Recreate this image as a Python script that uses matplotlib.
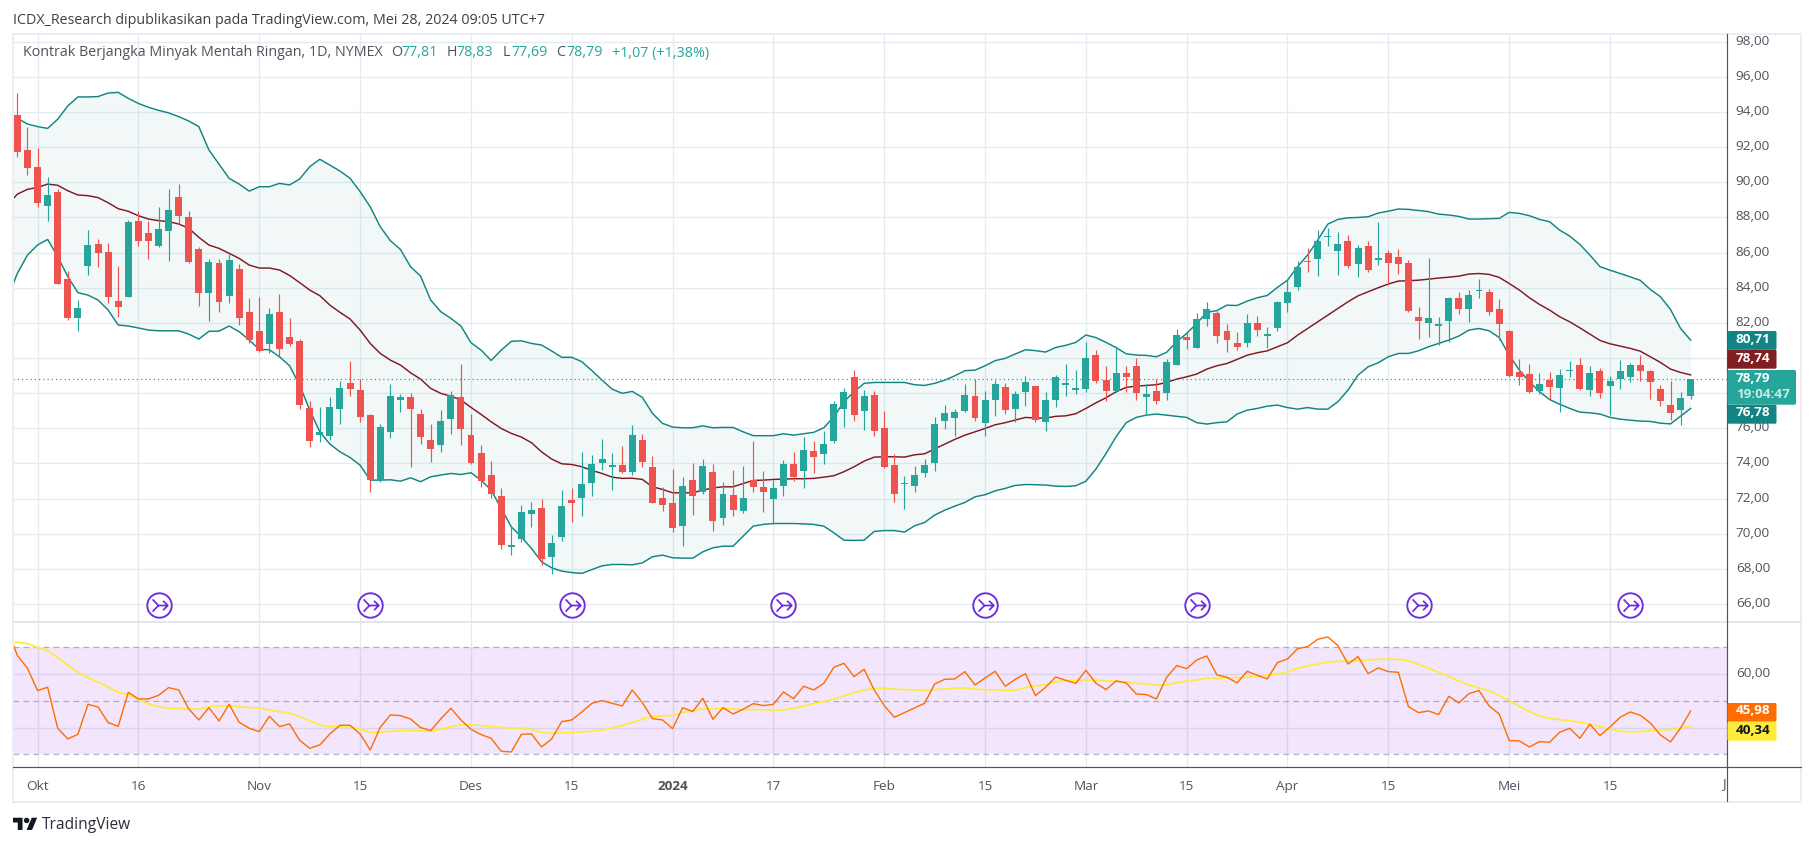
import matplotlib
matplotlib.use("Agg")
import matplotlib.pyplot as plt
from matplotlib.path import Path
from matplotlib.patches import PathPatch, FancyBboxPatch, Rectangle
from matplotlib.transforms import ScaledTranslation

W, H = 1815, 846
plt.rcParams['font.family'] = ['Open Sans', 'DejaVu Sans']

# ---------- data ----------
opens = [93.83,91.84,90.85,88.67,89.45,84.5,82.3,85.26,86.49,86.03,83.24,83.49,87.8,87.12,86.38,87.25,89.17,88.03,86.2,83.72,
85.41,83.55,85.07,82.62,81.54,80.81,82.62,81.19,80.97,77.15,75.63,75.58,77.11,78.58,78.18,76.75,73.05,75.8,77.61,77.78,
76.81,75.33,75.05,76.53,77.78,75.61,74.59,73.34,72.14,69.26,69.7,71.12,71.46,68.67,69.81,71.91,72.03,72.88,74.02,73.81,
73.91,73.51,75.33,73.79,72.03,71.74,70.43,73.05,72.37,73.51,70.89,72.2,71.29,73.05,72.65,71.97,72.71,73.96,73.57,74.7,
74.53,75.27,77.1,78.92,76.98,77.89,76.01,73.91,72.81,72.71,73.45,74.02,76.41,76.58,76.98,77.83,76.3,77.61,78.35,77.1,
78.06,78.4,76.35,77.61,78.46,78.18,78.23,80.17,78.75,78.12,79.14,79.54,77.8,78.12,78.0,79.6,81.19,80.57,82.22,82.56,
81.53,80.85,80.85,81.99,81.25,81.7,83.13,84.04,85.52,85.63,86.9,86.09,86.66,85.35,86.37,85.57,85.97,85.74,85.4,82.33,
81.99,81.84,82.1,83.41,82.78,83.81,83.75,82.78,81.53,79.2,79.08,78.12,78.74,78.29,79.26,79.6,78.17,79.26,78.4,78.8,
78.91,79.6,79.26,78.23,77.32,77.03,77.81]
highs = [95.07,93.13,91.95,90.3,89.64,84.95,83.3,87.29,86.8,86.55,85.24,87.86,88.35,87.8,88.6,89.6,89.9,88.37,86.34,85.62,
85.65,85.92,85.35,83.43,83.49,82.85,83.64,82.28,81.06,77.55,77.21,77.78,78.69,79.83,78.78,76.79,76.24,78.52,77.95,78.01,
77.1,76.24,77.04,78.12,79.66,76.81,75.05,74.13,72.6,70.38,71.63,71.8,71.97,69.92,72.48,72.6,74.65,74.48,75.39,74.6,
74.99,76.18,75.67,74.42,72.65,73.68,73.22,74.02,74.25,73.96,72.94,73.62,73.85,75.27,73.57,73.05,74.19,74.65,75.5,75.27,
75.84,77.55,78.29,79.32,78.18,78.12,76.98,74.53,73.28,73.85,74.25,76.64,77.32,77.1,78.52,78.8,78.12,78.75,78.56,78.12,
78.97,78.4,78.06,79.03,79.66,79.32,80.91,80.45,79.54,80.68,79.54,80.0,78.52,78.8,79.92,81.65,81.48,82.54,83.19,82.67,
81.93,81.47,82.5,82.39,81.76,83.24,84.44,85.52,86.26,87.28,87.4,87.17,87.0,86.43,86.66,87.74,86.14,86.2,85.57,82.9,
85.69,82.33,83.47,83.75,83.87,84.49,83.92,83.35,81.59,79.94,79.65,79.14,79.2,79.4,79.82,80.0,79.54,79.43,78.97,79.88,
79.71,80.17,79.31,78.46,78.69,78.06,78.83]
lows = [91.46,90.42,88.58,87.82,84.23,82.16,81.55,84.73,85.2,83.15,82.35,83.45,86.4,85.65,86.34,85.5,87.63,85.43,82.98,82.12,
82.64,83.15,81.9,80.83,80.36,80.3,80.11,80.7,77.11,74.95,75.24,75.33,76.26,77.83,76.37,72.39,72.94,75.44,76.92,73.81,
75.1,74.08,74.65,75.67,75.05,73.96,72.65,72.03,69.13,68.78,69.54,70.38,68.21,67.7,69.58,70.66,71.0,72.14,73.62,72.48,
73.43,73.34,73.81,71.76,71.31,70.09,69.3,71.06,72.26,70.15,70.49,71.0,71.17,72.37,71.23,70.55,72.14,73.0,72.6,73.45,
73.96,75.16,76.07,76.41,75.9,75.56,73.74,71.8,71.4,72.37,73.22,73.57,75.96,75.56,76.92,76.41,75.56,76.7,76.81,76.35,
77.27,76.35,75.84,77.21,77.83,77.95,78.06,78.58,77.55,78.06,78.06,77.61,76.81,77.38,77.61,79.6,80.51,80.57,81.82,80.85,
80.34,80.45,80.62,81.25,80.56,81.53,82.61,83.87,84.89,84.66,86.37,84.72,85.12,84.61,84.89,85.29,84.15,84.78,82.61,81.08,
81.19,80.74,80.91,82.5,82.04,83.41,82.44,81.02,78.91,78.46,78.0,77.95,77.66,76.92,78.91,78.17,77.83,77.72,76.75,78.23,
78.63,78.69,77.66,77.26,76.47,76.18,77.69]
closes = [91.75,90.84,88.84,89.28,84.23,82.3,82.85,86.43,86.0,83.49,82.92,87.74,86.68,86.68,87.34,88.43,88.1,85.48,83.72,85.47,
83.21,85.58,82.3,81.04,80.42,82.5,80.53,80.8,77.32,75.27,75.79,77.21,78.29,78.23,76.66,73.05,76.07,77.83,77.78,77.1,
75.5,74.82,76.41,77.89,75.96,74.0,73.0,72.26,69.35,69.35,71.23,71.35,68.56,69.47,71.57,71.74,72.83,73.96,74.25,73.89,
73.51,75.61,74.08,71.76,71.63,70.32,72.71,72.14,73.85,70.72,72.26,71.35,72.03,72.65,72.37,72.6,73.96,73.22,74.76,74.36,
75.1,77.38,78.06,76.75,77.83,75.84,73.79,72.26,72.85,73.34,73.91,76.24,76.87,76.92,77.89,76.58,77.61,78.52,77.04,77.95,
78.63,76.47,77.61,78.92,78.58,78.29,80.0,78.69,78.12,79.14,78.92,78.0,77.95,77.55,79.77,81.31,81.02,82.22,82.79,81.25,
81.02,80.62,81.99,81.59,81.36,83.18,83.75,85.18,85.46,86.66,86.96,86.49,85.23,86.26,85.0,85.69,85.4,85.35,82.67,82.1,
82.27,81.93,83.41,82.78,83.58,83.87,82.61,81.93,78.97,78.91,78.06,78.52,78.34,79.03,79.31,78.23,79.14,78.0,78.69,79.26,
79.6,79.26,78.63,77.55,76.87,77.72,78.79]
# Bollinger bands; first entry sits one session before the first candle
bb_upper = [94.1,93.64,93.32,93.17,93.07,93.59,94.35,94.86,94.86,94.88,95.08,95.12,94.78,94.49,94.27,94.1,93.95,93.74,93.49,93.17,91.84,
91.04,90.23,89.9,89.5,89.75,89.75,89.94,89.85,90.19,90.89,91.31,90.98,90.64,90.23,89.47,88.61,87.47,86.68,86.18,85.2,
84.66,83.3,82.64,82.26,81.82,80.87,80.45,79.86,80.45,80.95,80.98,80.83,80.74,80.4,80.04,80.04,79.79,79.28,78.74,78.23,
77.99,78.1,77.76,76.85,76.28,76.07,76.03,76.03,76.14,76.03,76.05,76.05,75.8,75.58,75.58,75.58,75.69,75.61,75.69,75.77,
76.03,76.66,77.51,78.08,78.56,78.61,78.61,78.61,78.61,78.48,78.44,78.56,78.74,78.99,79.28,79.31,79.56,79.85,79.98,80.23,
80.47,80.42,80.34,80.6,80.72,80.89,81.31,81.16,80.89,80.59,80.24,80.17,80.15,80.07,80.32,80.93,81.4,81.97,82.6,82.7,
83.01,82.99,83.24,83.43,83.56,84.02,84.43,85.2,85.86,86.71,87.62,87.89,87.98,88.0,88.04,88.25,88.36,88.48,88.46,88.4,
88.33,88.19,88.14,88.06,87.91,87.91,87.93,87.95,88.29,88.23,88.1,87.89,87.76,87.28,86.94,86.47,85.86,85.2,85.0,84.81,
84.62,84.42,83.9,83.49,82.76,81.68,81.02]
bb_basis = [88.7,89.33,89.6,89.71,89.9,89.83,89.52,89.28,89.24,89.13,88.84,88.5,88.35,88.1,87.91,87.82,87.76,87.63,87.38,86.87,86.43,
86.24,85.96,85.67,85.29,85.12,85.12,85.01,84.7,84.29,83.87,83.55,83.01,82.6,82.22,81.59,80.83,80.26,79.88,79.6,79.16,
78.8,78.27,77.99,77.83,77.61,77.19,76.79,76.37,75.99,75.71,75.5,75.18,74.66,74.25,73.98,73.94,73.81,73.6,73.43,73.22,
73.15,73.16,73.09,72.67,72.52,72.33,72.33,72.33,72.48,72.61,72.67,72.67,72.86,73.03,73.05,73.09,73.11,73.13,73.13,73.15,
73.22,73.3,73.53,73.81,74.13,74.36,74.38,74.38,74.36,74.49,74.55,74.82,75.1,75.37,75.61,75.8,75.99,76.2,76.32,76.47,
76.62,76.58,76.58,76.68,76.71,76.83,77.13,77.45,77.74,78.08,78.33,78.4,78.44,78.48,78.61,78.8,78.93,79.09,79.37,79.56,
79.69,79.92,80.16,80.3,80.41,80.64,80.87,81.3,81.68,82.06,82.44,82.82,83.2,83.54,83.77,84.0,84.21,84.38,84.4,84.43,
84.49,84.55,84.6,84.66,84.78,84.81,84.76,84.59,84.24,83.87,83.43,83.05,82.73,82.35,82.06,81.72,81.36,81.0,80.81,80.68,
80.55,80.39,80.07,79.75,79.37,79.18,79.04]
bb_lower = [83.4,84.82,85.86,86.43,86.75,85.77,84.63,83.72,83.58,83.3,82.73,81.88,81.82,81.71,81.59,81.55,81.55,81.55,81.36,81.08,81.52,
81.53,81.82,81.5,81.02,80.49,80.47,80.07,79.56,78.46,77.04,75.8,75.1,74.66,74.34,73.9,73.05,73.05,73.07,72.99,73.18,
72.96,73.24,73.34,73.43,73.37,73.47,73.05,72.48,71.44,70.39,69.82,69.16,68.4,68.06,67.87,67.79,67.74,67.96,68.17,68.25,
68.25,68.23,68.34,68.69,68.78,68.63,68.61,68.61,68.97,69.2,69.29,69.29,69.86,70.43,70.53,70.58,70.58,70.58,70.56,70.53,
70.43,70.05,69.63,69.62,69.63,70.13,70.18,70.18,70.09,70.45,70.64,71.06,71.34,71.57,71.78,72.1,72.22,72.44,72.58,72.75,
72.8,72.79,72.77,72.71,72.69,72.73,72.99,73.68,74.57,75.52,76.32,76.62,76.75,76.81,76.75,76.68,76.62,76.32,76.24,76.32,
76.37,76.81,77.03,77.13,77.26,77.32,77.18,77.09,77.18,77.09,77.09,77.51,78.17,79.03,79.5,79.73,80.07,80.26,80.26,80.41,
80.64,80.83,81.02,81.25,81.59,81.68,81.55,81.17,80.16,79.31,78.65,78.08,77.64,77.37,77.13,76.92,76.88,76.81,76.62,76.52,
76.46,76.41,76.39,76.29,76.25,76.69,77.13]
rsi = [76.9,66.89,62.16,53.81,55.05,39.73,35.74,37.48,48.7,47.7,41.85,40.47,53.18,50.69,50.69,52.06,54.93,54.06,46.95,42.84,47.45,
42.47,48.7,41.97,39.73,38.48,44.21,40.35,41.35,35.24,32.25,33.5,37.61,40.85,40.85,37.61,31.63,40.1,44.71,44.46,43.22,
39.98,38.85,43.22,47.2,42.84,39.35,37.36,35.99,31.13,30.88,37.48,37.61,32.75,35.74,42.22,42.84,45.83,49.07,50.07,49.07,
48.08,54.06,49.32,43.34,42.84,39.6,47.45,45.96,50.94,43.09,47.45,45.08,46.83,48.95,48.2,48.7,53.31,50.82,55.43,54.06,
56.55,62.53,64.02,59.04,61.78,54.06,48.2,43.84,45.58,47.33,49.07,56.3,58.04,58.17,60.91,55.92,58.54,61.03,55.43,58.04,
60.16,51.94,55.05,58.92,57.67,56.55,61.41,56.55,54.18,57.42,56.67,52.56,52.31,50.69,58.67,63.15,62.03,65.27,66.77,59.66,
58.79,56.67,61.03,59.54,58.17,64.27,65.64,69.51,70.25,73.0,73.87,70.63,63.77,66.52,60.16,62.28,60.91,60.66,47.83,45.58,
46.21,44.84,51.69,49.2,52.69,53.81,48.08,45.08,35.12,35.0,32.75,34.74,34.49,38.23,39.73,35.99,41.22,36.98,40.23,43.84,
45.83,44.59,41.72,37.23,34.62,39.85,46.21]
rsi_ma = [72.0,71.87,71.37,69.88,68.76,66.14,63.28,60.66,58.67,56.92,55.18,53.18,52.19,50.57,48.7,47.83,47.2,47.2,46.83,46.83,47.7,
48.08,48.08,47.7,47.45,47.33,46.58,45.96,45.33,44.09,42.47,40.97,40.35,40.35,39.98,39.48,38.23,38.23,38.61,38.85,38.85,
38.73,38.61,39.35,40.35,40.97,40.97,40.72,40.35,39.98,39.85,39.73,39.23,38.23,37.86,37.98,38.23,38.36,38.61,39.1,39.98,
40.72,41.85,43.22,44.09,44.34,44.59,45.58,46.33,46.95,47.08,47.08,46.95,46.7,46.7,46.7,46.46,46.58,47.2,48.08,48.95,
49.7,50.69,51.81,53.06,54.06,54.68,54.68,54.31,54.18,54.06,53.93,54.18,54.43,54.68,54.8,54.43,54.06,54.18,53.93,53.93,
54.93,55.55,56.05,57.05,57.67,57.67,57.79,57.67,57.42,57.3,57.05,56.55,56.3,55.8,55.92,56.8,57.3,57.79,58.42,58.42,
58.54,58.67,58.79,59.04,59.66,60.04,60.78,62.16,63.03,63.65,64.4,64.77,64.77,65.02,65.27,65.52,65.52,65.52,64.9,63.65,
62.16,60.66,59.04,57.42,55.92,54.8,53.68,51.94,50.07,47.95,45.96,44.34,43.47,42.97,42.6,41.97,41.22,40.35,39.48,38.61,
38.36,38.48,38.85,39.1,39.23,39.73,40.47]
time_ticks = [2,12,24,34,45,55,65,75,86,96,106,116,126,136,148,158]
time_labels = ['Okt','16','Nov','15','Des','15','2024','17','Feb','15','Mar','15','Apr','15','Mei','15']
price_ticks = list(range(66,100,2))
price_hidden = [78,80]          # covered by the last-value tags in the reference
rsi_ticks = [60]
rsi_levels = [70,50,30]
split_idx = [14,35,55,76,96,117,139,160]
last_close = 78.79

# ---------- layout ----------
X0, XR = 17.4, 10.08           # pixel of first candle, pixels per session
LEFT, AX_R = 13.5, 1727.5
TOP, DIV, BOT = 34.5, 622.3, 767.3
def px2i(p): return (p-X0)/XR
def rect(l,t,r,b): return [l/W, 1-b/H, (r-l)/W, (b-t)/H]
def main_v(py): return 66+(604-py)/17.57
def rsi_v(py): return 30+(754.3-py)/2.675

UP, DN = '#26a69a', '#ef5350'
GRID = '#e4ecf2'
BAND = '#138484'
TXT = '#50535e'
FS = 9.7
FS_HEAD = 10.25

fig = plt.figure(figsize=(W/100,H/100), dpi=100, facecolor='white')
ax = fig.add_axes(rect(LEFT,TOP,AX_R,DIV))
ax2 = fig.add_axes(rect(LEFT,DIV,AX_R,BOT))
for a in (ax,ax2):
    a.set_xlim(px2i(LEFT),px2i(AX_R))
    for s in a.spines.values(): s.set_visible(False)
    a.set_axisbelow(True)
    a.grid(True, color=GRID, lw=1.0)
    a.tick_params(length=0, colors=TXT, labelsize=FS)
    a.yaxis.tick_right()
ax.set_ylim(main_v(DIV),main_v(TOP))
ax2.set_ylim(rsi_v(BOT),rsi_v(DIV))

# price scale
ax.set_yticks(price_ticks)
ax.set_yticklabels(['' if v in price_hidden else f'{v:.2f}'.replace('.',',') for v in price_ticks])
ax.set_xticks(time_ticks); ax.tick_params(axis='x',labelbottom=False)
ax2.set_yticks(rsi_ticks+[40])
ax2.set_yticklabels(['60,00',''])
ax2.set_xticks(time_ticks); ax2.set_xticklabels(time_labels)
ax2.tick_params(axis='y',pad=6)
ax.tick_params(axis='y',pad=6)
ax2.tick_params(axis='x',pad=9)
up2 = ScaledTranslation(0,2/100,fig.dpi_scale_trans)
for a in (ax,ax2):
    for l in a.get_yticklabels():
        l.set_transform(l.get_transform()+up2)
for l in ax2.get_xticklabels():
    if l.get_text()=='2024': l.set_fontweight('bold')

# Bollinger
xb = list(range(-1,len(closes)))
ax.fill_between(xb,bb_upper,bb_lower,color=BAND,alpha=0.05,lw=0,zorder=1)
ax.plot(xb,bb_upper,color=BAND,lw=1.05,zorder=2)
ax.plot(xb,bb_lower,color=BAND,lw=1.05,zorder=2)
ax.plot(xb,bb_basis,color='#801922',lw=1.05,zorder=2)
ax.axhline(last_close,color=UP,lw=0.9,ls=(0,(1,2.4)),zorder=2)

# candles
for i,(o,h,l,c) in enumerate(zip(opens,highs,lows,closes)):
    col = UP if c>=o else DN
    ax.vlines(i,l,h,color=col,lw=0.85,zorder=3)
    ax.bar(i,max(abs(c-o),0.06),bottom=min(o,c),width=0.69,color=col,lw=0,zorder=4)

# split markers
arrow = Path([(-0.62,0.55),(-0.1,0.0),(0.75,0.0),(0.32,0.42),(0.75,0.0),(0.32,-0.42),(-0.1,0.0),(-0.62,-0.55)],
             [Path.MOVETO,Path.LINETO,Path.LINETO,Path.MOVETO,Path.LINETO,Path.LINETO,Path.MOVETO,Path.LINETO])
yicon = main_v(605)
ax.plot(split_idx,[yicon]*len(split_idx),ls='none',marker='o',ms=17.6,mfc='white',mec='#6a2be8',mew=1.35,zorder=5)
ax.plot(split_idx,[yicon]*len(split_idx),ls='none',marker=arrow,ms=12,mfc='none',mec='#6a2be8',mew=1.25,zorder=6)

# RSI pane
ax2.axhspan(min(rsi_levels),max(rsi_levels),color='#8705eb',alpha=0.1,lw=0,zorder=1)
for v in rsi_levels:
    ax2.axhline(v,color='#787b86',alpha=0.55,lw=0.9,ls=(0,(4.5,3.5)),zorder=2)
ax2.plot(xb,rsi_ma,color='#ffeb3b',lw=1.25,zorder=3)
ax2.plot(xb,rsi,color='#ff6d00',lw=1.0,zorder=4)

# overlay in pixels
ov = fig.add_axes([0,0,1,1],facecolor='none',zorder=10)
ov.set_xlim(0,W); ov.set_ylim(H,0); ov.axis('off')
FR = '#eceef3'
ov.add_patch(Rectangle((12.8,33.8),1788.7,767.9,fill=False,ec=FR,lw=1.5))
ov.plot([LEFT,1801],[BOT,BOT],color=TXT,lw=0.85)
ov.plot([LEFT,1801],[DIV,DIV],color='#e0e3eb',lw=1.3)
ov.plot([AX_R,AX_R],[TOP,801],color=TXT,lw=0.85)

def T(x,y,s,c=TXT,**k):
    k.setdefault('fontsize',FS); k.setdefault('va','center'); k.setdefault('ha','left')
    return ov.text(x,y,s,color=c,**k)
T(13,20,'ICDX_Research dipublikasikan pada TradingView.com, Mei 28, 2024 09:05 UTC+7','#3d4049',fontsize=FS_HEAD)
T(23,53,'Kontrak Berjangka Minyak Mentah Ringan, 1D, NYMEX',fontsize=FS_HEAD)
for x,s,c in [(391,'O',TXT),(401,'77,81',UP),(447,'H',TXT),(456.5,'78,83',UP),(503,'L',TXT),(511,'77,69',UP),
              (556.5,'C',TXT),(566,'78,79',UP),(612,'+1,07 (+1,38%)',UP)]:
    T(x,53,s,c,fontsize=FS_HEAD)
T(1725.5,784,'J',ha='right')

def box(y0,y1,x1,col,lines,tc='white'):
    ov.add_patch(FancyBboxPatch((AX_R,y0),x1-AX_R,y1-y0,boxstyle='round,pad=0,rounding_size=1.5',fc=col,ec='none',zorder=3))
    for yy,s,cc in lines:
        ov.text(1736,yy,s,color=cc or tc,fontsize=FS,fontweight='bold',va='center',ha='left',zorder=4)
box(331,349.7,1776.5,'#138484',[(339.5,'80,71',None)])
box(349.7,368.7,1776.5,'#801f22',[(358.5,'78,74',None)])
box(404.7,423.7,1776.5,'#138484',[(413,'76,78',None)])
box(370,404.7,1796,UP,[(378,'78,79',None),(394,'19:04:47','#c8e9e5')])
box(703,721.7,1776.5,'#ff6d00',[(711,'45,98',None)])
box(721.7,740.7,1776.5,'#ffeb3b',[(730,'40,34','#131722')])

# logo
s = 0.68; lx, ly = 13, 815
def L(x,y): return (lx+x*s, ly+y*s)
M,LN,CL = Path.MOVETO,Path.LINETO,Path.CLOSEPOLY
vv = [(14,22),(7,22),(7,11),(0,11),(0,4),(14,4),(14,22),(28,22),(20,22),(27.5,4),(35.5,4),(28,22)]
cc = [M,LN,LN,LN,LN,LN,CL,M,LN,LN,LN,CL]
ov.add_patch(PathPatch(Path([L(*p) for p in vv],cc),fc='#131722',ec='none'))
ov.add_patch(plt.Circle(L(20,8),4*s,fc='#131722',ec='none'))
T(42,825,'TradingView','#2a2e39',fontsize=11.2)

fig.savefig('out.png',dpi=100,facecolor='white')
